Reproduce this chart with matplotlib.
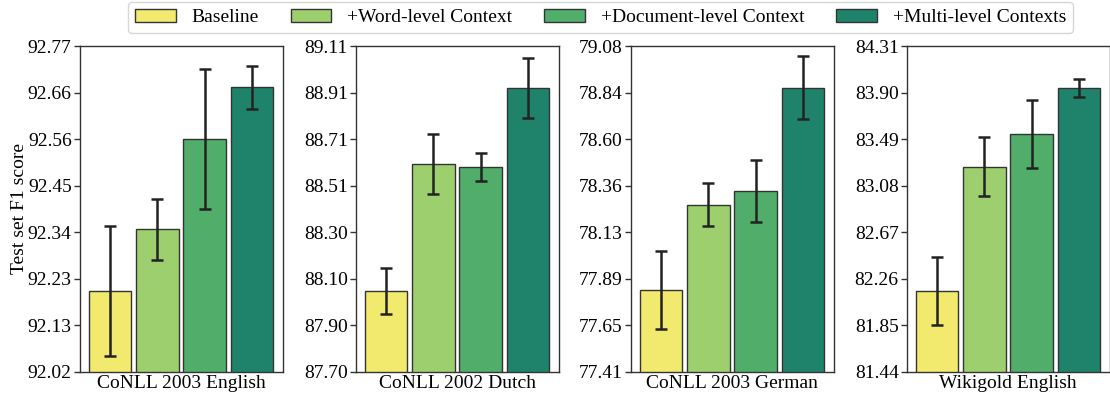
import numpy as np
import matplotlib
matplotlib.use("Agg")
import matplotlib.pyplot as plt

plt.rcParams['font.family'] = ['Liberation Serif', 'DejaVu Serif']
plt.rcParams['font.size'] = 14

methods = ["Baseline", "+Word-level Context", "+Document-level Context", "+Multi-level Contexts"]
colors = ["#f2ea6e", "#9ecf6f", "#51ad6a", "#1f836b"]

datasets = ["CoNLL 2003 English", "CoNLL 2002 Dutch", "CoNLL 2003 German", "Wikigold English"]
means = [
    [92.207, 92.348, 92.556, 92.675],
    [88.049, 88.598, 88.588, 88.928],
    [77.828, 78.267, 78.337, 78.867],
    [82.156, 83.248, 83.535, 83.943],
]
errs = [
    [0.15, 0.07, 0.16, 0.05],
    [0.10, 0.13, 0.06, 0.13],
    [0.20, 0.11, 0.16, 0.16],
    [0.30, 0.26, 0.30, 0.08],
]
ylims = [(92.02, 92.77), (87.70, 89.11), (77.41, 79.08), (81.44, 84.31)]

fig = plt.figure(figsize=(11.1, 3.99), dpi=100)
lefts = [80, 356, 631, 907]
x = np.arange(4)
handles = []
for i in range(4):
    ax = fig.add_axes([lefts[i] / 1110, 0.0677, 203 / 1110, 0.817])
    bars = ax.bar(x, means[i], width=0.9, color=colors, edgecolor="#333333",
                  linewidth=1.0)
    ax.errorbar(x, means[i], yerr=errs[i], fmt="none", ecolor="#222222",
                elinewidth=1.8, capsize=4, capthick=1.8)
    lo, hi = ylims[i]
    ax.set_ylim(lo, hi)
    ax.set_xlim(-0.64, 3.66)
    ticks = np.linspace(lo, hi, 8)
    ax.set_yticks(ticks)
    ax.set_yticklabels(["%.2f" % t for t in ticks])
    ax.set_xticks([1.5])
    ax.set_xticklabels([datasets[i]])
    ax.tick_params(axis="x", length=0, pad=2)
    ax.tick_params(axis="y", length=4, width=1, color="#333333", pad=2)
    for s in ax.spines.values():
        s.set_color("#333333")
        s.set_linewidth(1.0)
    if i == 0:
        ax.set_ylabel("Test set F1 score", labelpad=0)
        handles = bars

fig.legend(handles, methods, loc="upper center", bbox_to_anchor=(0.541, 1.02),
           ncol=4, frameon=True, fancybox=True, edgecolor="#cccccc",
           handlelength=2.1, columnspacing=1.65, borderpad=0.35, fontsize=14)

fig.savefig("out.png", dpi=100)
